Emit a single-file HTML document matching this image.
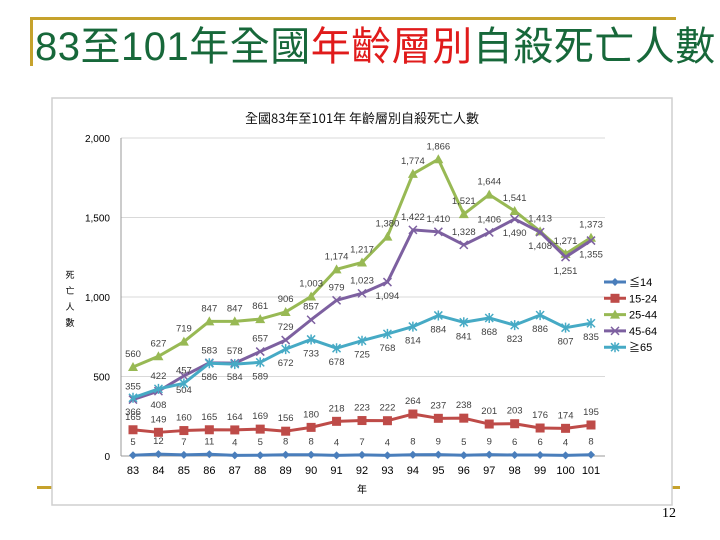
<!DOCTYPE html>
<html><head><meta charset="utf-8">
<style>
html,body{margin:0;padding:0;background:#fff;}
body{width:720px;height:540px;position:relative;overflow:hidden;font-family:"Liberation Sans","Noto Sans CJK TC",sans-serif;}
</style></head>
<body>
<div style="position:absolute;left:30px;top:17px;width:646px;height:3px;background:#c6a22c"></div>
<div style="position:absolute;left:30px;top:17px;width:3px;height:49px;background:#c6a22c"></div>
<div style="position:absolute;left:35px;top:24px;font-size:40px;line-height:46px;color:#17683a;white-space:nowrap;letter-spacing:0.5px;font-family:'Liberation Sans','Noto Sans CJK TC',sans-serif;">83至101年全國<span style="color:#e01b1b">年齡層別</span>自殺死亡人數</div>
<div style="position:absolute;left:37px;top:486px;width:16px;height:3px;background:#c6a22c"></div>
<div style="position:absolute;left:672px;top:486px;width:8px;height:3px;background:#c6a22c"></div>
<div style="position:absolute;left:662px;top:506px;font-family:'Liberation Serif',serif;font-size:14px;color:#000">12</div>
<svg id="chart" width="720" height="540" style="position:absolute;left:0;top:0">
<rect x="52" y="98" width="620" height="407" fill="#fff" stroke="#cfcfcf" stroke-width="1.5"/>
</svg>
<script>
const years=["83","84","85","86","87","88","89","90","91","92","93","94","95","96","97","98","99","100","101"];
const s14=[5,12,7,11,4,5,8,8,4,7,4,8,9,5,9,6,6,4,8];
const s1524=[165,149,160,165,164,169,156,180,218,223,222,264,237,238,201,203,176,174,195];
const s2544=[560,627,719,847,847,861,906,1003,1174,1217,1380,1774,1866,1521,1644,1541,1413,1271,1373];
const s4564=[355,408,504,586,584,657,729,857,979,1023,1094,1422,1410,1328,1406,1490,1408,1251,1355];
const s65=[366,422,457,583,578,589,672,733,678,725,768,814,884,841,868,823,886,807,835];
const yTicks=[0,500,1000,1500,2000];
const seriesNames=["≦14","15-24","25-44","45-64","≧65"];
const below4564=[1,2,3,4,10,15,16,17,18];
const above65=[1,2,3,4];
const svg=document.getElementById('chart');const NS="http://www.w3.org/2000/svg";
const x0=133,dx=(591-133)/18,yb=456,yt=138;
const X=i=>x0+i*dx;const Y=v=>yb-(v/2000)*(yb-yt);
function mk(t,a,p){const e=document.createElementNS(NS,t);for(const k in a)e.setAttribute(k,a[k]);(p||svg).appendChild(e);return e;}
function fmt(v){return v>=1000?Math.floor(v/1000)+","+String(v%1000).padStart(3,"0"):String(v);}
let t=mk('text',{x:362,y:123,'text-anchor':'middle','font-size':13,fill:'#111','font-family':'"Noto Sans CJK TC",sans-serif'});
t.textContent="全國83年至101年 年齡層別自殺死亡人數";
yTicks.forEach(v=>{const g=mk('line',{x1:121,x2:605,y1:Y(v),y2:Y(v),stroke:v?'#d9d9d9':'#999','stroke-width':1});

const l=mk('text',{x:110,y:Y(v)+4,'text-anchor':'end','font-size':10,fill:'#000'});
l.textContent=fmt(v);});
let ax=mk('line',{x1:121,x2:121,y1:yt,y2:yb,stroke:'#999'});
years.forEach((yr,i)=>{const l=mk('text',{x:X(i),y:474,'text-anchor':'middle','font-size':11,fill:'#000'});
l.textContent=yr;});
let xt=mk('text',{x:362,y:493,'text-anchor':'middle','font-size':10,fill:'#000'});xt.textContent="年";
let yt2=mk('text',{x:70,y:278,'text-anchor':'middle','font-size':9,fill:'#000'});
["死","亡","人","數"].forEach((c,i)=>{const ts=mk('tspan',{x:70,dy:i?16:0},yt2);ts.textContent=c;});
const cols=['#4a7ebb','#be4b48','#98b954','#7d60a0','#46aac5'];
const data=[s14,s1524,s2544,s4564,s65];
function isBelow(k,i){if(k===3)return below4564.includes(i);if(k===4)return !above65.includes(i);return false;}
function marker(k,x,y,p){const c=cols[k];let m;
if(k===0)m=mk('polygon',{points:`${x},${y-4} ${x+4},${y} ${x},${y+4} ${x-4},${y}`,fill:c},p);
else if(k===1)m=mk('rect',{x:x-4.5,y:y-4.5,width:9,height:9,fill:c},p);
else if(k===2)m=mk('polygon',{points:`${x},${y-5} ${x+5},${y+4} ${x-5},${y+4}`,fill:c},p);
else{m=mk('path',{d:`M${x-4},${y-4}L${x+4},${y+4}M${x-4},${y+4}L${x+4},${y-4}`+(k===4?`M${x},${y-5}L${x},${y+5}`:''),stroke:c,'stroke-width':1.5,fill:'none'},p);}
return m;}
data.forEach((arr,k)=>{
const g=mk('g',{});
const p=mk('polyline',{points:arr.map((v,i)=>X(i)+','+Y(v)).join(' '),fill:'none',stroke:cols[k],'stroke-width':3,'stroke-linejoin':'round'},g);

arr.forEach((v,i)=>{const m=marker(k,X(i),Y(v),g);
const ly=isBelow(k,i)?Y(v)+17:Y(v)-10;
const l=mk('text',{x:X(i),y:ly,'text-anchor':'middle','font-size':9.5,fill:'#404040'},g);
l.textContent=fmt(v);});
});
seriesNames.forEach((n,k)=>{const y=282+k*16.3;const g=mk('g',{});
mk('line',{x1:604,x2:626,y1:y,y2:y,stroke:cols[k],'stroke-width':3},g);marker(k,615,y,g);
const l=mk('text',{x:629,y:y+4,'font-size':11,fill:'#000'},g);l.textContent=n;});
</script>
</body></html>
